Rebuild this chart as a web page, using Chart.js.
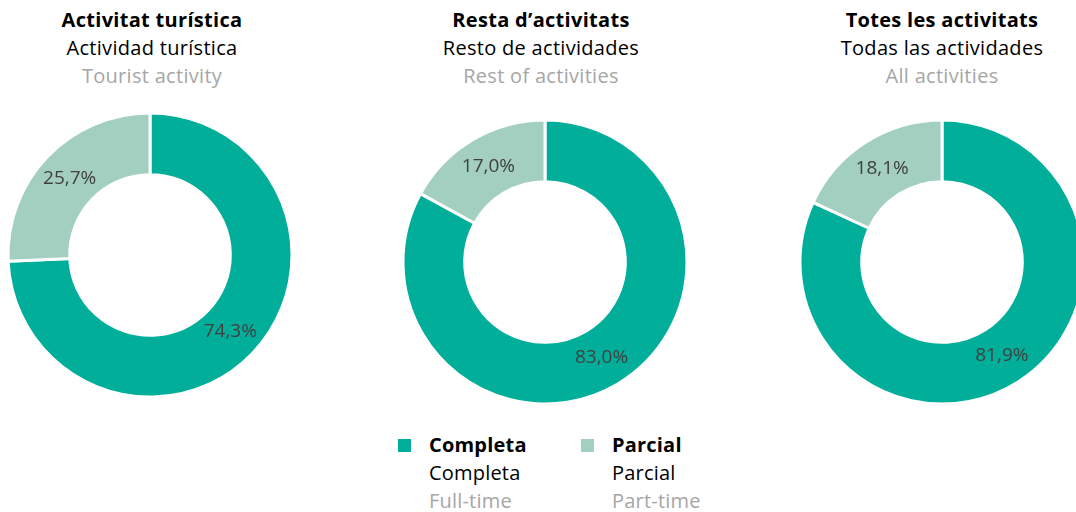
<!DOCTYPE html>
<html>
<head>
<meta charset="utf-8">
<script src="https://cdn.jsdelivr.net/npm/chart.js@4"></script>
<style>
  html, body { margin: 0; padding: 0; background: #fff; }
  body { width: 1076px; height: 512px; position: relative; overflow: hidden; font-family: 'Open Sans', Lato, sans-serif; }
  .title { position: absolute; top: 6px; width: 300px; text-align: center; font-size: 20px; letter-spacing: 0.3px; line-height: 28px; }
  .title .ca, .legend .ca { font-weight: bold; color: #000; }
  .title .es, .legend .es { color: #000; }
  .title .en, .legend .en { color: #a6a6a6; }
  .chartBox { position: absolute; width: 300px; height: 300px; }
  .legend { position: absolute; top: 431px; font-size: 20px; letter-spacing: 0.2px; line-height: 28px; }
  .legend .swatch { position: absolute; left: -31px; top: 8px; width: 13px; height: 13px; }
</style>
</head>
<body>
<div id="root"></div>
<script>
// groups (one doughnut per group), in three languages
const groupsCa = ['Activitat turística', 'Resta d’activitats', 'Totes les activitats'];
const groupsEs = ['Actividad turística', 'Resto de actividades', 'Todas las actividades'];
const groupsEn = ['Tourist activity', 'Rest of activities', 'All activities'];

// categories
const categoriesCa = ['Completa', 'Parcial'];
const categoriesEs = ['Completa', 'Parcial'];
const categoriesEn = ['Full-time', 'Part-time'];

// values (%)
const fullTime = [74.3, 83.0, 81.9];
const partTime = [25.7, 17.0, 18.1];

const colors = ['#00ae9a', '#a3cfc0'];

// layout of each doughnut (centre of the canvas)
const centres = [[150, 255], [545, 262], [942, 262]];
const titleX = [152, 541, 942];

const root = document.getElementById('root');

// plugin to write the percent on each slice
const sliceLabels = {
  id: 'sliceLabels',
  afterDatasetsDraw(chart) {
    const ctx = chart.ctx;
    const meta = chart.getDatasetMeta(0);
    ctx.save();
    ctx.font = '19px "Open Sans", Lato, sans-serif';
    ctx.fillStyle = '#404040';
    ctx.textAlign = 'center';
    ctx.textBaseline = 'middle';
    meta.data.forEach((arc, i) => {
      const pos = arc.tooltipPosition();
      const v = chart.data.datasets[0].data[i];
      ctx.fillText(v.toFixed(1).replace('.', ',') + '%', pos.x, pos.y);
    });
    ctx.restore();
  }
};

groupsCa.forEach((g, i) => {
  const t = document.createElement('div');
  t.className = 'title';
  t.style.left = (titleX[i] - 150) + 'px';
  t.innerHTML = `<div class="ca">${g}</div><div class="es">${groupsEs[i]}</div><div class="en">${groupsEn[i]}</div>`;
  root.appendChild(t);

  const box = document.createElement('div');
  box.className = 'chartBox';
  box.style.left = (centres[i][0] - 150) + 'px';
  box.style.top = (centres[i][1] - 150) + 'px';
  const canvas = document.createElement('canvas');
  canvas.width = 300;
  canvas.height = 300;
  box.appendChild(canvas);
  root.appendChild(box);

  new Chart(canvas.getContext('2d'), {
    type: 'doughnut',
    data: {
      labels: categoriesCa,
      datasets: [{
        data: [fullTime[i], partTime[i]],
        backgroundColor: colors,
        borderColor: '#ffffff',
        borderWidth: 3,
        radius: 142,
        cutout: 84,
      }],
    },
    options: {
      responsive: false,
      animation: false,
      layout: { padding: 0 },
      plugins: {
        legend: { display: false },
        tooltip: { enabled: false },
      },
    },
    plugins: [sliceLabels],
  });
});

// legend
const legendX = [429, 612];
categoriesCa.forEach((c, i) => {
  const l = document.createElement('div');
  l.className = 'legend';
  l.style.left = legendX[i] + 'px';
  l.innerHTML = `<span class="swatch" style="background:${colors[i]}"></span><div class="ca">${c}</div><div class="es">${categoriesEs[i]}</div><div class="en">${categoriesEn[i]}</div>`;
  root.appendChild(l);
});
</script>
</body>
</html>
